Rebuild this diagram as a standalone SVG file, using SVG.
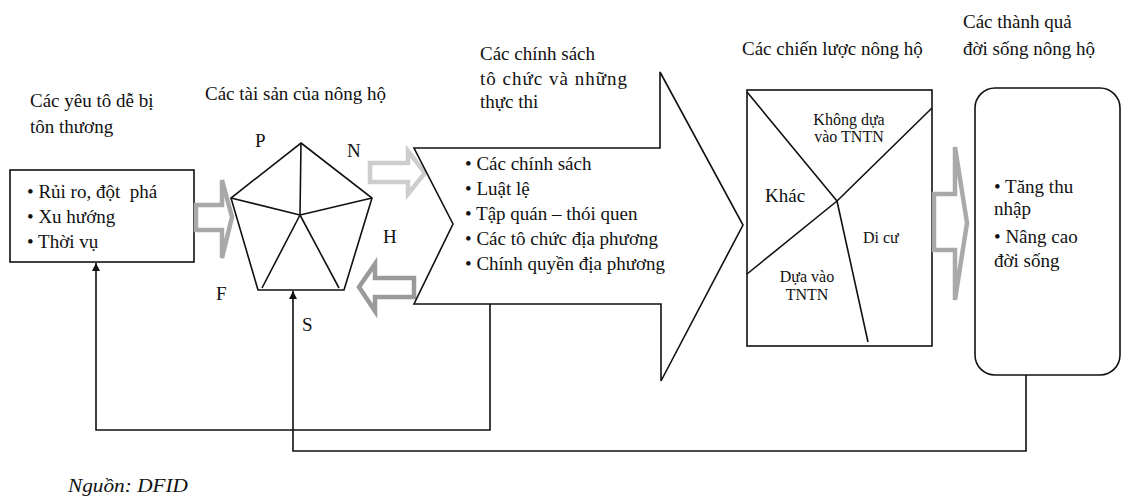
<svg xmlns="http://www.w3.org/2000/svg" width="1122" height="500" viewBox="0 0 1122 500" font-family="'Liberation Serif', 'Times New Roman', serif">
<defs>
<style>
text{font-family:'Liberation Serif','Times New Roman',serif;fill:#111;}
.t{font-size:19px;}
.s{font-size:16px;}
.ln{fill:none;stroke:#111;stroke-width:1.6;}
.shape{fill:#fff;stroke:#111;stroke-width:1.6;}
.ga{fill:#fff;stroke-width:4.5;stroke-linejoin:miter;}
</style>
<marker id="ah" viewBox="0 0 10 10" refX="10" refY="5" markerWidth="8" markerHeight="8" markerUnits="userSpaceOnUse" orient="auto">
<path d="M0,0 L10,5 L0,10 z" fill="#111"/>
</marker>
</defs>
<rect width="1122" height="500" fill="#fff"/>

<g id="vulnerability">
<text class="t" x="30" y="107">Các yêu tô dễ bị</text>
<text class="t" x="30" y="133">tôn thương</text>
<rect class="shape" x="10" y="170" width="184" height="92"/>
<text class="t" x="27" y="198" xml:space="preserve">• Rủi ro, đột  phá</text>
<text class="t" x="27" y="223">• Xu hướng</text>
<text class="t" x="27" y="248">• Thời vụ</text>
</g>

<g id="arrow-left">
<polygon class="ga" stroke="#a9a9a9" points="196,205 222,205 222,180 232,217 222,258 222,230 196,230"/>
</g>

<g id="assets">
<text class="t" x="205" y="100">Các tài sản của nông hộ</text>
<polygon class="shape" points="301,143 372,198 344,290 258,290 231,198"/>
<path class="ln" d="M300,215 L301,143 M300,215 L231,198 M300,215 L372,198 M300,215 L262,288 M300,215 L339,288"/>
<text class="t" x="255" y="147">P</text>
<text class="t" x="347" y="157">N</text>
<text class="t" x="383" y="243">H</text>
<text class="t" x="216" y="300">F</text>
<text class="t" x="302" y="331">S</text>
</g>

<g id="arrow-n">
<polygon class="ga" stroke="#cdcdcd" points="370,163 408,163 408,151 425,173 408,194 408,182 370,182"/>
</g>
<g id="arrow-h">
<polygon class="ga" stroke="#9a9a9a" points="359,287 375,264 375,278 414,278 414,297 375,297 375,311"/>
</g>

<g id="policies">
<text class="t" x="480" y="60">Các chính sách</text>
<text class="t" x="480" y="85" textLength="147" lengthAdjust="spacing">tô chức và những</text>
<text class="t" x="480" y="108">thực thi</text>
<polygon class="shape" points="414,148 660,148 660,72 743,225 661,381 661,304 414,304 453,224"/>
<text class="t" x="465" y="170">• Các chính sách</text>
<text class="t" x="465" y="195">• Luật lệ</text>
<text class="t" x="465" y="220">• Tập quán – thói quen</text>
<text class="t" x="465" y="245">• Các tô chức địa phương</text>
<text class="t" x="465" y="270">• Chính quyền địa phương</text>
</g>

<g id="strategies">
<text class="t" x="742" y="55">Các chiến lược nông hộ</text>
<rect class="shape" x="747" y="90" width="185" height="256"/>
<path class="ln" d="M747,92 L837,201 M932,108 L837,201 M837,201 L747,274 M837,201 L868,342"/>
<text class="s" x="849" y="125" text-anchor="middle">Không dựa</text>
<text class="s" x="849" y="142" text-anchor="middle">vào TNTN</text>
<text class="t" x="765" y="202">Khác</text>
<text class="s" x="863" y="243">Di cư</text>
<text class="s" x="807" y="282" text-anchor="middle">Dựa vào</text>
<text class="s" x="807" y="300" text-anchor="middle">TNTN</text>
</g>

<g id="arrow-right">
<polygon class="ga" stroke="#a9a9a9" points="934,194 955,194 955,147 967,223 955,300 955,250 934,250"/>
</g>

<g id="outcomes">
<text class="t" x="963" y="28">Các thành quả</text>
<text class="t" x="963" y="55">đời sống nông hộ</text>
<rect class="shape" x="975" y="88" width="145" height="287" rx="20" ry="20"/>
<text class="t" x="994" y="193">• Tăng thu</text>
<text class="t" x="994" y="215">nhập</text>
<text class="t" x="994" y="243">• Nâng cao</text>
<text class="t" x="994" y="267">đời sống</text>
</g>

<g id="connectors">
<polyline class="ln" points="490,304 490,430 96,430 96,263" marker-end="url(#ah)"/>
<polyline class="ln" points="1026,375 1026,451 293,451 293,291" marker-end="url(#ah)"/>
</g>

<text x="68" y="492" font-size="19" font-style="italic" textLength="120" lengthAdjust="spacingAndGlyphs">Nguồn: DFID</text>
</svg>
